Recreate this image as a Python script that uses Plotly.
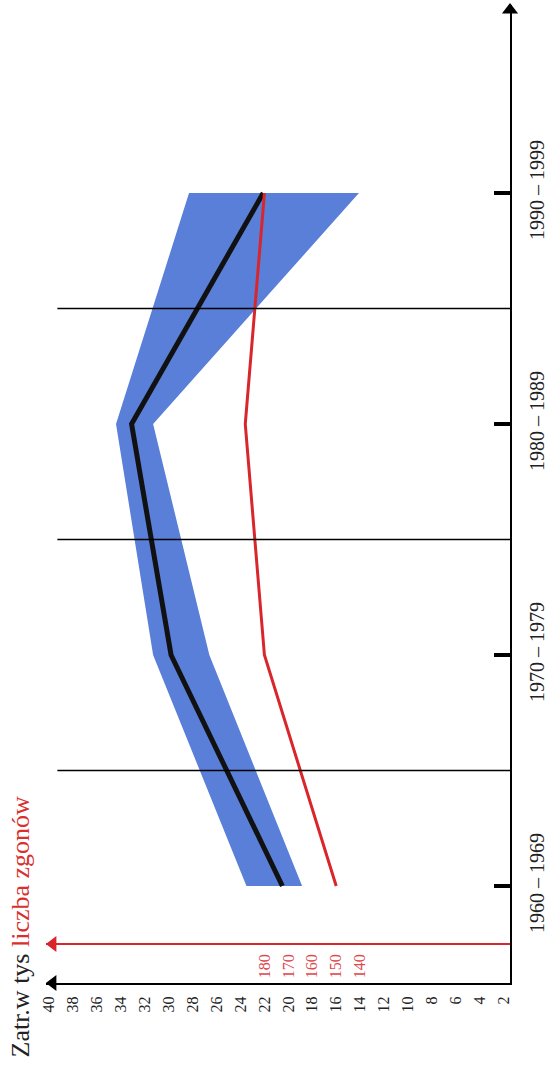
import plotly.graph_objects as go

decades = ["1960 – 1969", "1970 – 1979", "1980 – 1989", "1990 – 1999"]
idx = [0, 1, 2, 3]
employment_mid = [20.5, 29.8, 33.1, 22.1]
employment_high = [23.5, 31.3, 34.4, 28.3]
employment_low = [18.85, 26.6, 31.3, 14.1]
deaths = [150, 180, 188, 180]
emp_ticks = list(range(40, 0, -2))
death_ticks = [180, 170, 160, 150, 140]

FONT = "Liberation Serif"
BLUE = "#5a7fd8"
RED = "#d8262b"
RED_TXT = "#e0474c"

X0, X1 = 40.25, 1.48          # value axis range (reversed)
Y0, Y1 = -0.42, 3.814         # decade axis range

fig = go.Figure()

# band
fig.add_trace(go.Scatter(
    x=employment_high + employment_low[::-1],
    y=idx + idx[::-1],
    fill="toself", fillcolor=BLUE, line=dict(width=0),
    mode="lines", hoverinfo="skip", showlegend=False))

# black mean line
fig.add_trace(go.Scatter(x=employment_mid, y=idx, mode="lines",
                         line=dict(color="#111111", width=5), showlegend=False))

# red deaths line on second scale
fig.add_trace(go.Scatter(x=deaths, y=idx, xaxis="x2", mode="lines",
                         line=dict(color=RED, width=3), showlegend=False))

# arrow heads
fig.add_trace(go.Scatter(x=[X0 - 7 / 12.2], y=[Y0], mode="markers", cliponaxis=False,
                         marker=dict(symbol="triangle-left", size=14, color="black"),
                         showlegend=False, hoverinfo="skip"))
fig.add_trace(go.Scatter(x=[X0 - 7 / 12.2], y=[-0.251], mode="markers", cliponaxis=False,
                         marker=dict(symbol="triangle-left", size=14, color=RED),
                         showlegend=False, hoverinfo="skip"))
fig.add_trace(go.Scatter(x=[X1], y=[3.792], mode="markers", cliponaxis=False,
                         marker=dict(symbol="triangle-up", size=14, color="black"),
                         showlegend=False, hoverinfo="skip"))

shapes = []
for g in [0.5, 1.5, 2.5]:
    shapes.append(dict(type="line", xref="x", yref="y", x0=39.3, x1=X1, y0=g, y1=g,
                       line=dict(color="black", width=1.5)))

fig.update_layout(
    width=553, height=1071,
    margin=dict(l=46, r=34, t=5, b=88),
    paper_bgcolor="white", plot_bgcolor="white",
    showlegend=False,
    shapes=shapes,
    xaxis=dict(range=[X0, X1], tickvals=emp_ticks, ticktext=[str(t) for t in emp_ticks],
               tickangle=-90, showline=True, linecolor="black", linewidth=2,
               ticks="", showgrid=False, zeroline=False,
               tickfont=dict(family=FONT, size=16, color="#222"), ticklabelstandoff=5),
    xaxis2=dict(range=[70 + 5 * X0, 70 + 5 * X1], overlaying="x", anchor="free",
                position=(983 - 944) / 978, side="bottom",
                tickvals=death_ticks, ticktext=[str(t) for t in death_ticks],
                tickangle=-90, showline=True, linecolor=RED, linewidth=1.5,
                ticks="", showgrid=False, zeroline=False,
                tickfont=dict(family=FONT, size=16, color=RED_TXT), ticklabelstandoff=3),
    yaxis=dict(range=[Y0, Y1], side="right", tickvals=idx, ticktext=decades,
               tickangle=-90, ticks="inside", ticklen=16, tickwidth=4, tickcolor="black",
               showline=True, linecolor="black", linewidth=2,
               showgrid=False, zeroline=False,
               tickfont=dict(family=FONT, size=20, color="#222"), ticklabelstandoff=8),
    annotations=[dict(
        text="Zatr.w tys <span style='color:#d9302f'>liczba zgonów</span>",
        xref="paper", yref="paper", x=(20 - 46) / 473, y=(983 - 926) / 978,
        xanchor="center", yanchor="middle", textangle=-90, showarrow=False,
        font=dict(family=FONT, size=26, color="#222"))],
)

fig.write_html("out.html")
